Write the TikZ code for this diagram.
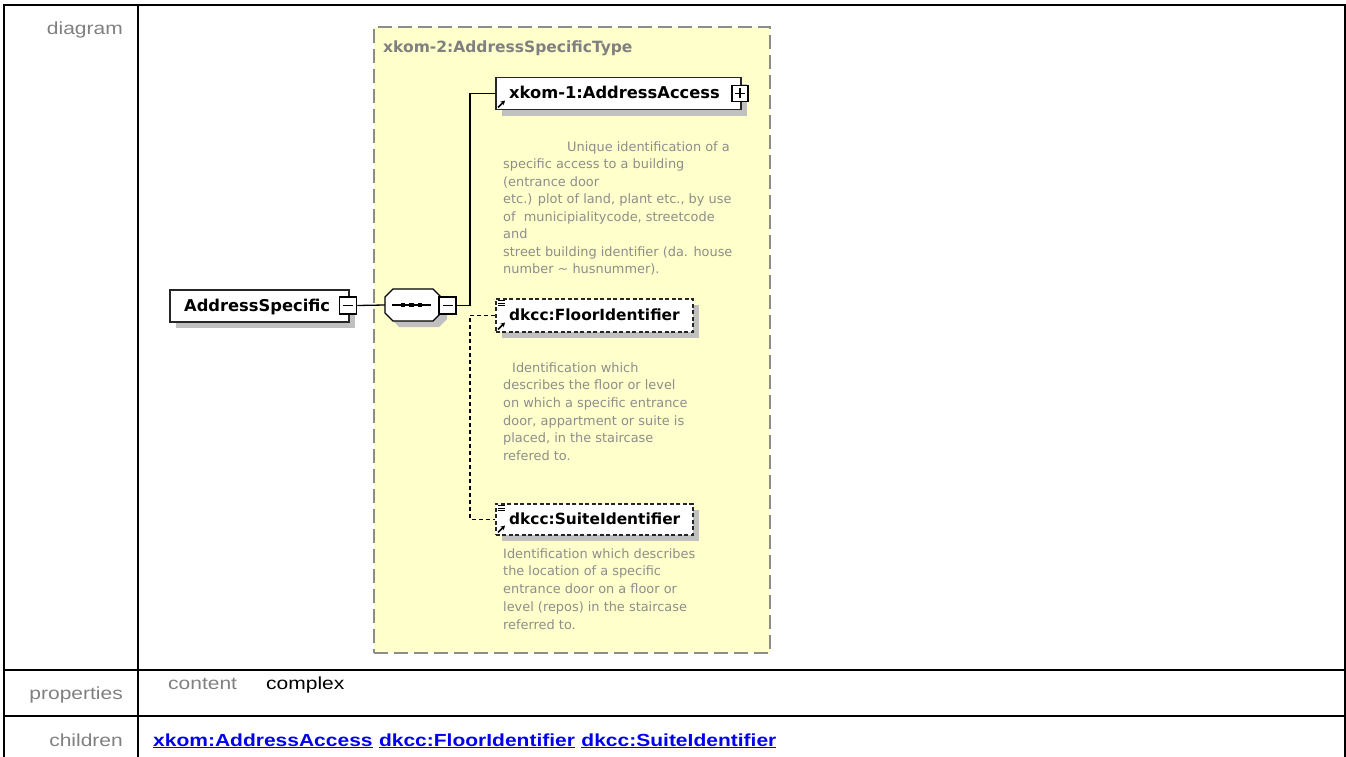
\documentclass[tikz,border=0pt]{standalone}
\usepackage{fontspec}
\setmainfont{DejaVu Sans}
\newfontfamily\labfont[FakeStretch=1.2]{Liberation Sans}
\usetikzlibrary{arrows.meta,shadows,calc}
\definecolor{yel}{HTML}{FFFFCC}
\definecolor{dashc}{HTML}{8C8C8C}
\definecolor{shad}{HTML}{C0C0C0}
\definecolor{labc}{HTML}{808080}
\definecolor{descc}{HTML}{8E8E8A}
\definecolor{lnk}{HTML}{0000EE}
\begin{document}
\begin{tikzpicture}[x=1pt,y=-1pt,
  tline/.style={line width=2pt, black},
  tablab/.style={font=\labfont\fontsize{17.5}{20}\selectfont, text=labc, anchor=base east, inner sep=0pt},
  linkstyle/.style={font=\labfont\fontsize{17.5}{20}\selectfont\bfseries, text=lnk, anchor=base west, inner sep=0pt},
  elemtext/.style={font=\fontsize{16.3}{19}\selectfont\bfseries, anchor=base west, inner sep=0pt},
  optelemtext/.style={elemtext, font=\fontsize{15.4}{19}\selectfont\bfseries},
  desctext/.style={font=\fontsize{12.9}{15}\selectfont, text=descc, anchor=base west, inner sep=0pt},
  shad6/.style={drop shadow={shadow xshift=6pt, shadow yshift=-6pt, fill=shad, opacity=1}},
  elembox/.style={draw=black!85, line width=1.5pt, fill=white, inner sep=0pt, anchor=north west, shad6},
  optbox/.style={elembox, dash pattern=on 4pt off 2.5pt},
  pmbox/.style={draw=black, line width=1.5pt, fill=white, inner sep=0pt, minimum size=17pt},
  minusbox/.style={pmbox, path picture={\draw[line width=1.3pt] ([xshift=-5pt]path picture bounding box.center) -- ([xshift=5pt]path picture bounding box.center);}},
  plusbox/.style={pmbox, minimum size=16pt, path picture={\draw[line width=1.3pt] ([xshift=-5pt]path picture bounding box.center) -- ([xshift=5pt]path picture bounding box.center) ([yshift=-5pt]path picture bounding box.center) -- ([yshift=5pt]path picture bounding box.center);}},
  conn/.style={line width=1.3pt, black},
  optconn/.style={conn, dash pattern=on 4pt off 3pt},
  refarrow/.style={line width=1.5pt, -{Stealth[length=4.5pt,width=5pt]}},
]
\useasboundingbox (0,0) rectangle (1346,757);

% table
\draw[tline] (4,757) -- (4,5) -- (1345,5) -- (1345,757);
\draw[tline] (138,5) -- (138,757);
\draw[tline] (4,670) -- (1345,670);
\draw[tline] (4,716) -- (1345,716);
\node[tablab] (ldiag) at (123,35) {diagram};
\node[tablab] (lprop) at (123,699) {properties};
\node[tablab] (lchild) at (123,746) {children};
\node[tablab, anchor=base west] (lcont) at (168,689) {content};
\node[tablab, anchor=base west, text=black] (lcompl) at (266,689) {complex};
\node[linkstyle] (k1) at (153,746) {\underline{xkom:AddressAccess}};
\node[linkstyle] (k2) at ([xshift=6pt]k1.base east) {\underline{dkcc:FloorIdentifier}};
\node[linkstyle] (k3) at ([xshift=6pt]k2.base east) {\underline{dkcc:SuiteIdentifier}};

% type box
\node[draw=dashc, fill=yel, line width=1.6pt, dash pattern=on 14pt off 6pt, minimum width=396pt, minimum height=626pt, anchor=north west, inner sep=0pt] (typebox) at (373,26) {};
\node[font=\fontsize{15.5}{18}\selectfont\bfseries, text=labc, anchor=base west, inner sep=0pt] (title) at (383,52.5) {xkom-2:AddressSpecificType};

% AddressSpecific
\node[elembox, minimum width=179pt, minimum height=32pt] (as) at (169,289) {};
\node[elemtext] (asT) at (184,311) {AddressSpecific};
\node[minusbox] (asM) at (348,305.5) {};

% sequence compositor
\fill[shad] (391,303) -- (399,295) -- (439,295) -- (447,303) -- (447,319) -- (439,327) -- (399,327) -- (391,319) -- cycle;
\node[minimum width=56pt, minimum height=32pt, inner sep=0pt] (seq) at (413,305) {};
\draw[line width=1.4pt, fill=white] (385,297) -- (393,289) -- (433,289) -- (441,297) -- (441,313) -- (433,321) -- (393,321) -- (385,313) -- cycle;
\draw[line width=1.3pt] (392,305) -- (431,305);
\foreach \d in {403,411.5,420} \fill (\d-2.2,302.8) rectangle (\d+2.2,307.2);
\node[minusbox] (seqM) at (447.5,305.5) {};

% AddressAccess
\node[elembox, minimum width=245pt, minimum height=32pt] (acc) at (495,77) {};
\node[elemtext] (accT) at (509,99) {xkom-1:AddressAccess};
\node[plusbox] (accP) at (740,93.5) {};
\draw[refarrow] ($(acc.south west)+(3,-3)$) -- ++(7,-7);

\node[desctext] (acc0) at (567,151) {Unique identification of a};
\foreach \t [count=\i] in {{specific access to a building},{(entrance door},{etc.) plot of land, plant etc., by use},{of\ \ municipialitycode, streetcode},{and},{street building identifier (da. house},{number \textasciitilde{} husnummer).}}
  \node[desctext] (acc\i) at (503,151+17.5*\i) {\t};

% FloorIdentifier
\node[optbox, minimum width=197pt, minimum height=33pt] (floor) at (495,298) {};
\node[optelemtext] (floorT) at (509,320.5) {dkcc:FloorIdentifier};
\fill[white] ($(floor.north west)+(1.5,1.5)$) rectangle ++(9,7);
\draw[line width=0.9pt] ($(floor.north west)+(3,2.5)$) -- ++(7,0) ($(floor.north west)+(3,5)$) -- ++(7,0) ($(floor.north west)+(3,7.5)$) -- ++(7,0);
\draw[refarrow] ($(floor.south west)+(3,-3)$) -- ++(7,-7);

\node[desctext] (fl0) at (512,372) {Identification which};
\foreach \t [count=\i] in {{describes the floor or level},{on which a specific entrance},{door, appartment or suite is},{placed, in the staircase},{refered to.}}
  \node[desctext] (fl\i) at (503,372+17.7*\i) {\t};

% SuiteIdentifier
\node[optbox, minimum width=197pt, minimum height=31pt] (suite) at (495,503) {};
\node[optelemtext] (suiteT) at (509,524) {dkcc:SuiteIdentifier};
\fill[white] ($(suite.north west)+(1.5,1.5)$) rectangle ++(9,7);
\draw[line width=0.9pt] ($(suite.north west)+(3,2.5)$) -- ++(7,0) ($(suite.north west)+(3,5)$) -- ++(7,0) ($(suite.north west)+(3,7.5)$) -- ++(7,0);
\draw[refarrow] ($(suite.south west)+(3,-3)$) -- ++(7,-7);

\foreach \t [count=\i from 0] in {{Identification which describes},{the location of a specific},{entrance door on a floor or},{level (repos) in the staircase},{referred to.}}
  \node[desctext] (su\i) at (503,558+17.8*\i) {\t};

% connectors
\draw[conn] (asM.east) -- (seq.west);
\coordinate (junc) at (470,305.5);
\draw[conn] (seqM.east) -- (junc) |- (acc.west);
\draw[optconn] (floor.west) -- (floor.west -| junc) |- (suite.west);
\end{tikzpicture}
\end{document}
